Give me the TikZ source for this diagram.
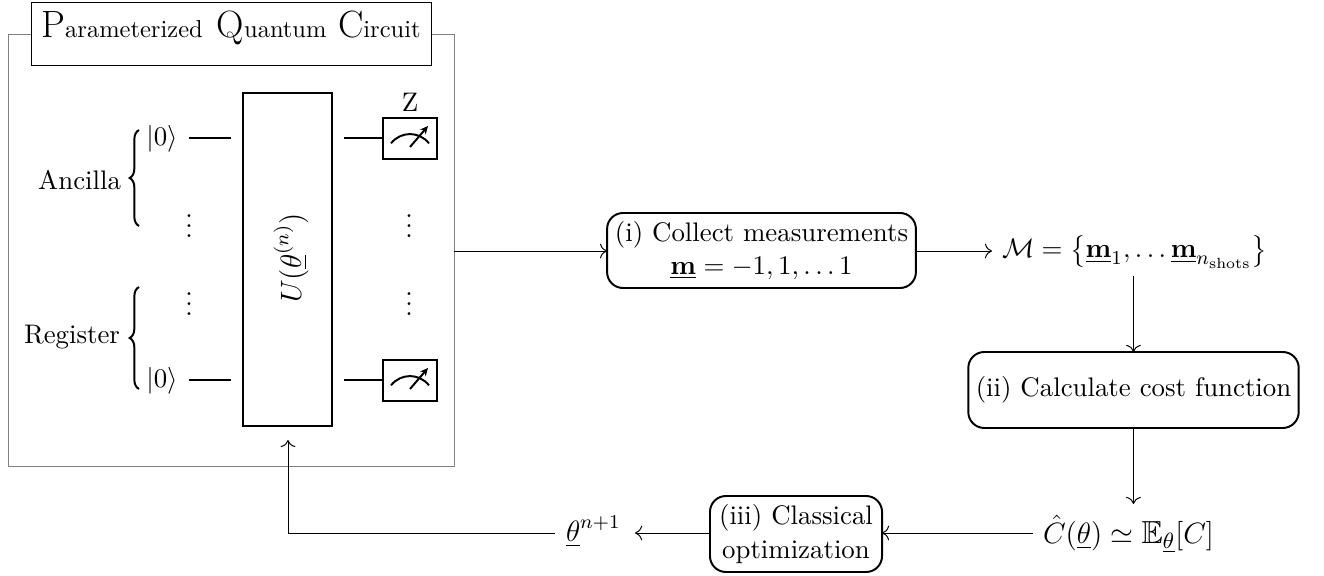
\documentclass[tikz,border=0pt]{standalone}
\usepackage{amsmath,amssymb}
\usetikzlibrary{decorations.pathreplacing,arrows.meta}
\newcommand{\capsz}{\fontsize{15.5}{18}\selectfont}
\tikzset{
  x=0.408pt,y=-0.408pt,
  every node/.append style={font=\fontsize{10.95}{13.4}\selectfont},
  txt/.style={inner sep=0pt,outer sep=0pt,align=center},
  flowbox/.style={draw,line width=0.8pt,rounded corners=6.5pt,inner sep=0pt,outer sep=0pt,align=center},
  gatebox/.style={draw,line width=0.8pt,inner sep=0pt,outer sep=0pt},
  wire/.style={line width=0.8pt},
  flow/.style={line width=0.4pt,-{To[length=2.9pt,width=6pt]}},
  bracestyle/.style={line width=0.8pt,decorate,decoration={brace,amplitude=3.8pt}},
  pics/meter/.style={code={
    \draw[line width=0.8pt] (-19,4.8) .. controls (-9,-7.5) and (9,-7.5) .. (19,4.8);
    \draw[line width=0.8pt,-{Stealth[length=3.2pt,width=3pt]}] (0,8.5) -- (18,-12.5);
  }}
}
\begin{document}
\begin{tikzpicture}
\useasboundingbox (0,0) rectangle (1324,576);
% outer frame
\draw[line width=0.4pt,black!50] (8,34) rectangle (454,466);
\node[draw,fill=white,line width=0.4pt,minimum width=163.2pt,minimum height=25.3pt,inner sep=0pt,outer sep=0pt] (title) at (231,34)
  {\raisebox{-1.6pt}[0pt][0pt]{\capsz P\normalsize arameterized\hspace{0.57em}\capsz Q\normalsize uantum\hspace{0.47em}\capsz C\normalsize ircuit}};
% unitary
\node[gatebox,minimum width=36.3pt,minimum height=135.9pt] (U) at (287.5,259.5) {};
\node[txt,rotate=90,font=\fontsize{12}{14}\selectfont] (Ulabel) at (291,258) {$U(\underline{\theta}^{(n)})$};
% measurement boxes
\node[gatebox,minimum width=22pt,minimum height=16.8pt] (M1) at (410,138.5) {};
\node[gatebox,minimum width=22pt,minimum height=16.8pt] (M2) at (410,380.5) {};
\pic at (M1.center) {meter};
\pic at (M2.center) {meter};
\node[txt] (Z) at (410,102) {Z};
% kets
\node[txt] (k1) at (162,139) {$|0\rangle$};
\node[txt] (k2) at (162,381) {$|0\rangle$};
% wires
\coordinate (w1a) at (189,138); \coordinate (w1b) at (231,138); \coordinate (w1c) at (344,138);
\coordinate (w2a) at (189,380); \coordinate (w2b) at (231,380); \coordinate (w2c) at (344,380);
\draw[wire] (w1a) -- (w1b);
\draw[wire] (w2a) -- (w2b);
\draw[wire] (w1c) -- (M1.west |- w1c);
\draw[wire] (w2c) -- (M2.west |- w2c);
% dots
\node[txt] (d1) at (189,219) {$\vdots$};
\node[txt] (d2) at (409,219) {$\vdots$};
\node[txt] (d3) at (189,297) {$\vdots$};
\node[txt] (d4) at (409,297) {$\vdots$};
% braces
\coordinate (b1a) at (139,226); \coordinate (b1b) at (139,130);
\coordinate (b2a) at (139,389); \coordinate (b2b) at (139,287);
\draw[bracestyle] (b1a) -- (b1b);
\draw[bracestyle] (b2a) -- (b2b);
\node[txt,anchor=east] (anc) at (121,180) {Ancilla};
\node[txt,anchor=east] (reg) at (120,337) {Register};
% flow boxes
\node[flowbox,minimum width=126pt,minimum height=30.6pt] (s1) at (761.5,250.5)
  {\raisebox{-0.6pt}{(i) Collect measurements}\\[-0.2pt]\raisebox{-0.6pt}{$\underline{\mathbf{m}}=-1,1,\dots 1$}\hspace{6pt}};
\node[flowbox,minimum width=134.8pt,minimum height=31pt] (s2) at (1133.5,390) {(ii) Calculate cost function};
\node[flowbox,minimum width=70.2pt,minimum height=31pt] (s3) at (796,534)
  {(iii) Classical\\[0.4pt]optimization};
% math nodes
\node[txt,anchor=base west] (M) at (1002,258) {$\mathcal{M}=\left\{\underline{\mathbf{m}}_1,\dots\underline{\mathbf{m}}_{n_{\text{shots}}}\right\}$};
\node[txt,anchor=base west,font=\fontsize{13}{15}\selectfont] (C) at (1043,543) {$\hat{C}(\underline{\theta})\simeq\mathbb{E}_{\underline{\theta}}[C]$};
\node[txt,anchor=base west,font=\fontsize{11.5}{14}\selectfont] (T) at (566,541.5) {$\underline{\theta}^{n+1}$};
% connectors
\coordinate (frameR) at (454,251);
\coordinate (Mout) at (1133.5,276);
\coordinate (Min) at (992,251);
\coordinate (Cin) at (1133.5,504);
\coordinate (Cout) at (1033,533);
\coordinate (Tin) at (635,533);
\coordinate (Tout) at (555,533);
\coordinate (Ubelow) at (288,440);
\draw[flow] (frameR) -- (s1.west |- frameR);
\draw[flow] (s1.east |- Min) -- (Min);
\draw[flow] (Mout) -- (Mout |- s2.north);
\draw[flow] (Mout |- s2.south) -- (Cin);
\draw[flow] (Cout) -- (s3.east |- Cout);
\draw[flow] (s3.west |- Cout) -- (Tin);
\draw[flow] (Tout) -| (Ubelow);
\end{tikzpicture}
\end{document}
